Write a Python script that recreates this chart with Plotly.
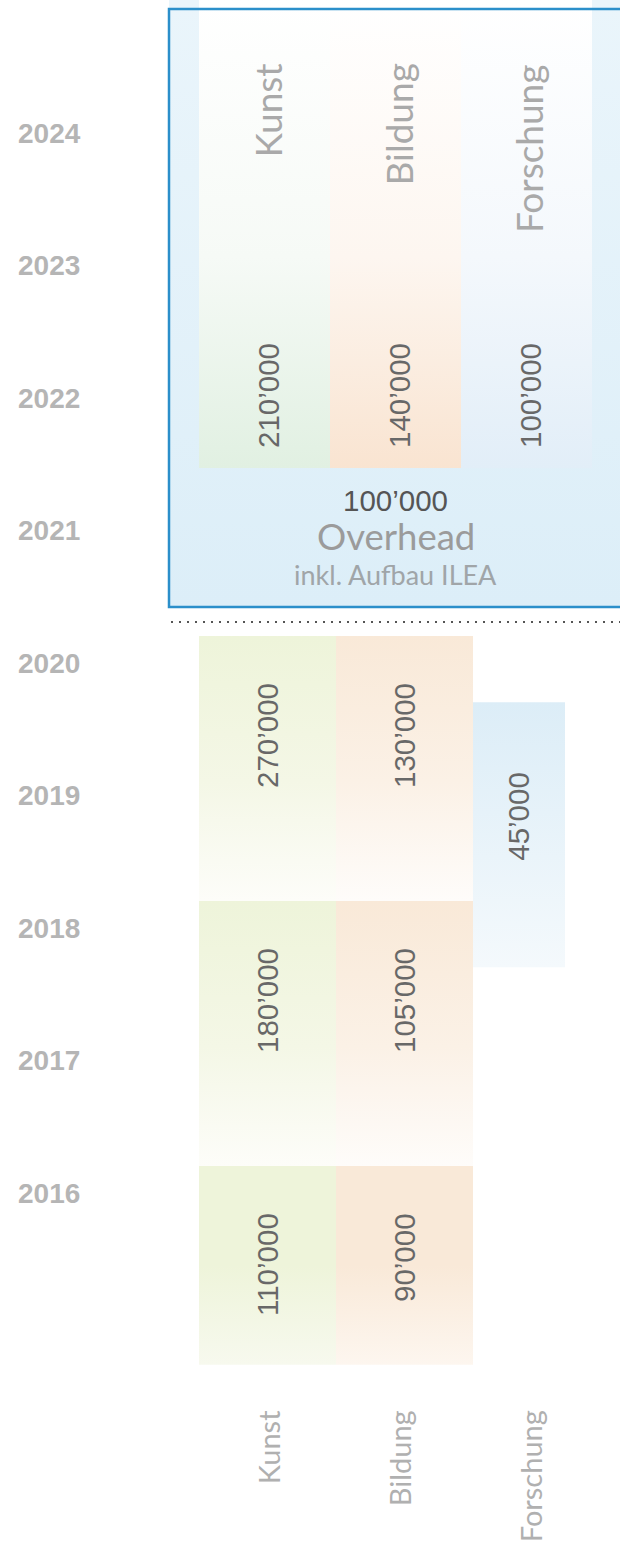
import plotly.graph_objects as go

# ---------------- data ----------------
categories = ["Kunst", "Bildung", "Forschung"]

# programme budgets 2022-2024 (upper, framed section)
upper_amounts = [210000, 140000, 100000]
upper_start, upper_end = 2022, 2025

# overhead for 2021-2024
overhead_amount = 100000
overhead_title = "Overhead"
overhead_note = "inkl. Aufbau ILEA"
overhead_start, overhead_end = 2021, 2025

# budgets 2016-2020 (lower section), one block per period
period_starts = [2015.5, 2017, 2019]
period_ends = [2017, 2019, 2021]
kunst_amounts = [110000, 180000, 270000]
bildung_amounts = [90000, 105000, 130000]
forschung_starts = [2018.5]
forschung_ends = [2020.5]
forschung_amounts = [45000]

years = [2016, 2017, 2018, 2019, 2020, 2021, 2022, 2023, 2024]

# ---------------- layout constants (styling) ----------------
W, H = 620, 1551
PX_YEAR = 132.5          # lower axis scale
Y2021_PX = 636           # pixel row of the 2021 boundary on the lower axis
COL_LEFT_PX = 199
LOWER_COL_PX = 137
FORSCHUNG_W = 92 / 137
UPPER_COL_PX = 131
FRAME_LEFT_PX = 169
FRAME_TOP_PX = 9
FRAME_BOTTOM_PX = 607
UPPER_COL_BOTTOM_PX = 468
SEPARATOR_PX = 622

VALUE_FONT = dict(family="Liberation Sans, Arial, sans-serif", size=29.5, color="#686868")
CAT_FONT = "Lato, 'Open Sans', sans-serif"

TINTS = {
    "Kunst": dict(upper="#e1f0e2", lower="#eef4da", fade="#fdfdf9"),
    "Bildung": dict(upper="#f9e4d1", lower="#f9e9d8", fade="#fefcfa"),
    "Forschung": dict(upper="#e2eef8", lower="#dcedf7", fade="#f4f9fc"),
}


def fmt(v):
    return f"{v:,}".replace(",", "\u2019")


def rect(x0, x1, y0, y1):
    return [x0, x1, x1, x0, x0], [y0, y0, y1, y1, y0]


fig = go.Figure()

# ---------------- axes ranges ----------------
y_low_range = [2021 - (H - Y2021_PX) / PX_YEAR, 2021 + Y2021_PX / PX_YEAR]
x_low_left = -0.5 - COL_LEFT_PX / LOWER_COL_PX
x_low_range = [x_low_left, x_low_left + W / LOWER_COL_PX]

up_px_year = UPPER_COL_BOTTOM_PX / (upper_end - upper_start)
y_up_range = [upper_start - (FRAME_BOTTOM_PX - UPPER_COL_BOTTOM_PX) / up_px_year, upper_end]
x_up_left = -0.5 - (COL_LEFT_PX - FRAME_LEFT_PX) / UPPER_COL_PX
x_up_range = [x_up_left, x_up_left + (W - FRAME_LEFT_PX) / UPPER_COL_PX]

# ---------------- upper section ----------------
ox, oy = rect(x_up_range[0], x_up_range[1], overhead_start, overhead_end)
fig.add_trace(go.Scatter(
    x=ox, y=oy, xaxis="x2", yaxis="y2", mode="lines", fill="toself",
    line=dict(width=0), hoverinfo="skip",
    fillgradient=dict(type="vertical", start=y_up_range[0], stop=overhead_end,
                      colorscale=[[0, "#dceef8"], [1, "#eaf5fb"]]),
))

UPPER_MID = {"Kunst": "#f6faf6", "Bildung": "#fdf6f0", "Forschung": "#f4f8fc"}
for i, (cat, amt) in enumerate(zip(categories, upper_amounts)):
    cx, cy = rect(i - 0.5, i + 0.5, upper_start, upper_end)
    fig.add_trace(go.Scatter(
        x=cx, y=cy, xaxis="x2", yaxis="y2", mode="lines", fill="toself",
        line=dict(width=0), hoverinfo="skip",
        fillgradient=dict(type="vertical", start=upper_start, stop=upper_end,
                          colorscale=[[0, TINTS[cat]["upper"]], [0.45, UPPER_MID[cat]], [1, "#ffffff"]]),
    ))
    fig.add_annotation(x=i, y=upper_end, xref="x2", yref="y2", text=cat,
                       textangle=-90, showarrow=False, yanchor="top", xshift=2, yshift=-62,
                       font=dict(family=CAT_FONT, size=37, color="#a9a9a9"))
    fig.add_annotation(x=i, y=upper_start, xref="x2", yref="y2", text=fmt(amt),
                       textangle=-90, showarrow=False, yanchor="bottom", xshift=4, yshift=18,
                       font=VALUE_FONT)

fig.add_annotation(x=1, y=upper_start, xref="x2", yref="y2", text=fmt(overhead_amount),
                   showarrow=False, yanchor="middle", yshift=-32,
                   font=dict(family="Liberation Sans, Arial, sans-serif", size=29.5, color="#555555"))
fig.add_annotation(x=1, y=upper_start, xref="x2", yref="y2", text=overhead_title,
                   showarrow=False, yanchor="middle", yshift=-68,
                   font=dict(family=CAT_FONT, size=36.5, color="#9b9b9b"))
fig.add_annotation(x=1, y=upper_start, xref="x2", yref="y2", text=overhead_note,
                   showarrow=False, yanchor="middle", yshift=-106,
                   font=dict(family=CAT_FONT, size=27, color="#a0a5a8"))

# ---------------- lower section ----------------
for i, (cat, amounts) in enumerate([("Kunst", kunst_amounts), ("Bildung", bildung_amounts)]):
    for k, (s, e, amt) in enumerate(zip(period_starts, period_ends, amounts)):
        bx, by = rect(i - 0.5, i + 0.5, s, e)
        t = TINTS[cat]
        if k == 0:
            cs = [[0, "#f7f9ee" if cat == "Kunst" else "#fdf6ef"], [0.5, t["lower"]], [1, t["lower"]]]
        else:
            cs = [[0, t["fade"]], [0.45, "#f4f7e6" if cat == "Kunst" else "#fbf1e6"], [1, t["lower"]]]
        fig.add_trace(go.Scatter(
            x=bx, y=by, mode="lines", fill="toself", line=dict(width=0), hoverinfo="skip",
            fillgradient=dict(type="vertical", start=s, stop=e, colorscale=cs),
        ))
        fig.add_annotation(x=i, y=e, text=fmt(amt), textangle=-90, showarrow=False,
                           yanchor="top", yshift=-45, font=VALUE_FONT)

for s, e, amt in zip(forschung_starts, forschung_ends, forschung_amounts):
    bx, by = rect(1.5, 1.5 + FORSCHUNG_W, s, e)
    fig.add_trace(go.Scatter(
        x=bx, y=by, mode="lines", fill="toself", line=dict(width=0), hoverinfo="skip",
        fillgradient=dict(type="vertical", start=s, stop=e,
                          colorscale=[[0, TINTS["Forschung"]["fade"]], [1, TINTS["Forschung"]["lower"]]]),
    ))
    fig.add_annotation(x=1.5 + FORSCHUNG_W / 2, y=(s + e) / 2, text=fmt(amt), textangle=-90,
                       showarrow=False, yanchor="middle", yshift=18, font=VALUE_FONT)

# bottom category labels
for i, cat in enumerate(categories):
    fig.add_annotation(x=i, y=min(period_starts), xref="x2", yref="y", text=cat,
                       textangle=-90, showarrow=False, yanchor="top", xshift=4, yshift=-44,
                       font=dict(family=CAT_FONT, size=29, color="#b0b0b0"))

# ---------------- decorations ----------------
fig.add_shape(type="rect", xref="paper", yref="paper",
              x0=FRAME_LEFT_PX / W, x1=1.05,
              y0=1 - FRAME_BOTTOM_PX / H, y1=1 - FRAME_TOP_PX / H,
              line=dict(color="#2b8fca", width=2.5), fillcolor="rgba(0,0,0,0)", layer="above")
fig.add_shape(type="line", xref="paper", yref="paper",
              x0=171 / W, x1=1, y0=1 - SEPARATOR_PX / H, y1=1 - SEPARATOR_PX / H,
              line=dict(color="#555555", width=2, dash="2px,6px"))

fig.update_layout(
    width=W, height=H, margin=dict(l=0, r=0, t=0, b=0),
    paper_bgcolor="white", plot_bgcolor="rgba(0,0,0,0)", showlegend=False,
    hovermode=False, dragmode=False,
    xaxis=dict(domain=[0, 1], range=x_low_range, visible=False, fixedrange=True),
    yaxis=dict(domain=[0, 1], range=y_low_range, showgrid=False, zeroline=False, showline=False,
               fixedrange=True,
               ticks="", tickvals=[y + 1 for y in years], ticktext=[str(y) for y in years],
               ticklabelposition="inside", ticklabelstandoff=15, ticklabelshift=27,
               tickfont=dict(family="Liberation Sans, Arial, sans-serif", size=28,
                             color="#b5b5b5", weight="bold")),
    xaxis2=dict(domain=[FRAME_LEFT_PX / W, 1], range=x_up_range, visible=False, anchor="y2",
                fixedrange=True),
    yaxis2=dict(domain=[1 - FRAME_BOTTOM_PX / H, 1], range=y_up_range, visible=False, anchor="x2",
                fixedrange=True),
)

fig.write_html("out.html", config={"displayModeBar": False, "staticPlot": True},
               post_script="document.body.style.margin='0';document.body.style.overflow='hidden';")
